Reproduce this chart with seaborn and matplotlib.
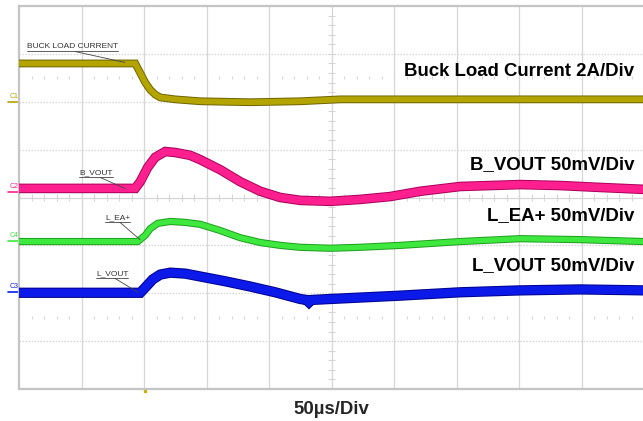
import numpy as np
import pandas as pd
import matplotlib
matplotlib.use("Agg")
import matplotlib.pyplot as plt
import matplotlib.patheffects as pe
import seaborn as sns

# time in us (50us/div, 10 div), level in screen divisions (8 div)
t_c1 = [-250, -157, -153, -149, -145, -141, -137, -125, -105, -65, -25, 7, 250]
y_c1 = [2.80, 2.80, 2.60, 2.40, 2.25, 2.15, 2.09, 2.05, 2.01, 1.99, 2.01, 2.05, 2.05]

t_c2 = [-250, -157, -153, -147, -141, -133, -125, -113, -105, -89, -73, -57,
        -41, -25, -1, 23, 47, 71, 103, 151, 183, 215, 250]
y_c2 = [0.19, 0.19, 0.33, 0.63, 0.84, 0.96, 0.94, 0.88, 0.79, 0.58, 0.33, 0.13,
        0.00, -0.06, -0.08, -0.04, 0.02, 0.13, 0.23, 0.27, 0.25, 0.21, 0.17]

t_c4 = [-250, -155, -149, -145, -139, -129, -117, -105, -89, -73, -57, -41,
        -25, -1, 23, 55, 103, 151, 199, 250]
y_c4 = [-0.92, -0.92, -0.79, -0.65, -0.54, -0.50, -0.52, -0.56, -0.69, -0.84,
        -0.94, -1.00, -1.04, -1.06, -1.04, -1.00, -0.92, -0.86, -0.88, -0.92]

t_c3 = [-250, -153, -149, -143, -137, -129, -117, -105, -85, -65, -45, -25,
        -20, -18, -16, -1, 23, 55, 103, 151, 199, 250]
y_c3 = [-1.99, -1.99, -1.88, -1.71, -1.61, -1.57, -1.59, -1.65, -1.75, -1.86,
        -1.98, -2.12, -2.14, -2.19, -2.14, -2.12, -2.09, -2.05, -1.98, -1.94,
        -1.92, -1.94]

channels = ["C1", "C2", "C4", "C3"]
fill_colors = ["#b3a400", "#ff1f8f", "#3ee83e", "#0b1ae8"]
edge_colors = ["#6e6400", "#a8005a", "#1e9e1e", "#00008c"]
widths = [4.2, 5.5, 3.8, 6.0]

scale_labels = ["Buck Load Current 2A/Div", "B_VOUT 50mV/Div",
                "L_EA+ 50mV/Div", "L_VOUT 50mV/Div"]
scale_y = [2.63, 0.69, -0.38, -1.42]

probe_names = ["BUCK LOAD CURRENT", "B_VOUT", "L_EA+", "L_VOUT"]
probe_x0 = [-243.6, -202.0, -181.2, -188.4]
probe_x1 = [-170.8, -174.8, -161.2, -162.8]
probe_y = [3.05, 0.42, -0.52, -1.69]
probe_lead = [-205.2, -185.2, -169.2, -173.2]
probe_tx = [-165.2, -165.2, -153.2, -154.8]
probe_ty = [2.82, 0.19, -0.88, -1.98]

ground_y = [2.0, 0.125, -0.90, -1.98]

df = pd.concat([
    pd.DataFrame({"t": t_c1, "v": y_c1, "ch": "C1"}),
    pd.DataFrame({"t": t_c2, "v": y_c2, "ch": "C2"}),
    pd.DataFrame({"t": t_c4, "v": y_c4, "ch": "C4"}),
    pd.DataFrame({"t": t_c3, "v": y_c3, "ch": "C3"}),
])

sns.set_style("white")
plt.rcParams["font.family"] = ["Liberation Sans", "DejaVu Sans"]

fig = plt.figure(figsize=(6.43, 4.21), dpi=100)
ax = fig.add_axes([19 / 643, 32 / 421, 625 / 643, 383 / 421])
ax.set_xlim(-250, 250)
ax.set_ylim(-4, 4)
ax.set_xticks([])
ax.set_yticks([])
for s in ax.spines.values():
    s.set_color("#c4c4c4")
    s.set_linewidth(1.6)

# graticule
grid_c = "#d6d6d6"
for xv in np.arange(-200, 250, 50):
    ax.axvline(xv, color=grid_c, lw=0.9, zorder=0)
for yv in np.arange(-3, 4, 1):
    if yv == 0:
        ax.axhline(yv, color=grid_c, lw=0.9, zorder=0)
    else:
        ax.axhline(yv, color=grid_c, lw=0.9, ls=(0, (1.2, 1.2)), zorder=0)
minor_x = np.arange(-250, 251, 10)
minor_y = np.arange(-4, 4.01, 0.2)
ax.vlines(minor_x, -0.07, 0.07, color=grid_c, lw=0.8, zorder=0)
ax.hlines(minor_y, -2.5, 2.5, color=grid_c, lw=0.8, zorder=0)
for yv in [2.5, -2.5]:
    ax.vlines(minor_x, yv - 0.03, yv + 0.03, color=grid_c, lw=0.8, zorder=0)

for ch, fc, ec, w in zip(channels, fill_colors, edge_colors, widths):
    sub = df[df["ch"] == ch]
    sns.lineplot(data=sub, x="t", y="v", ax=ax, color=fc, lw=w, sort=False,
                 estimator=None, zorder=3, solid_joinstyle="miter",
                 path_effects=[pe.Stroke(linewidth=w + 1.4, foreground=ec), pe.Normal()])
ax.set_xlabel("")
ax.set_ylabel("")

for txt, yv in zip(scale_labels, scale_y):
    ax.text(242, yv, txt, ha="right", va="center", fontsize=13.4,
            fontweight="bold", color="black", zorder=5)

for name, x0, x1, yv, xl, tx, ty in zip(probe_names, probe_x0, probe_x1, probe_y,
                                        probe_lead, probe_tx, probe_ty):
    ax.text(x0, yv + 0.03, name, ha="left", va="bottom", fontsize=6, color="#333333", zorder=6)
    ax.plot([x0, x1], [yv, yv], color="#444444", lw=0.6, zorder=6)
    ax.plot([xl, tx], [yv, ty], color="#444444", lw=0.6, zorder=6)

for ch, gy, fc in zip(channels, ground_y, fill_colors):
    ax.text(-257.5, gy + 0.04, ch, ha="left", va="bottom", fontsize=5, color=fc,
            clip_on=False)
    ax.plot([-259, -251], [gy, gy], color=fc, lw=1.2, clip_on=False)

ax.plot([-149], [-4.05], marker="s", ms=2, color="#c8b400", clip_on=False)

fig.text(331 / 643, 12 / 421, "50\u00b5s/Div", ha="center", va="center",
         fontsize=13.4, fontweight="bold")

fig.savefig("out.png", dpi=100)
